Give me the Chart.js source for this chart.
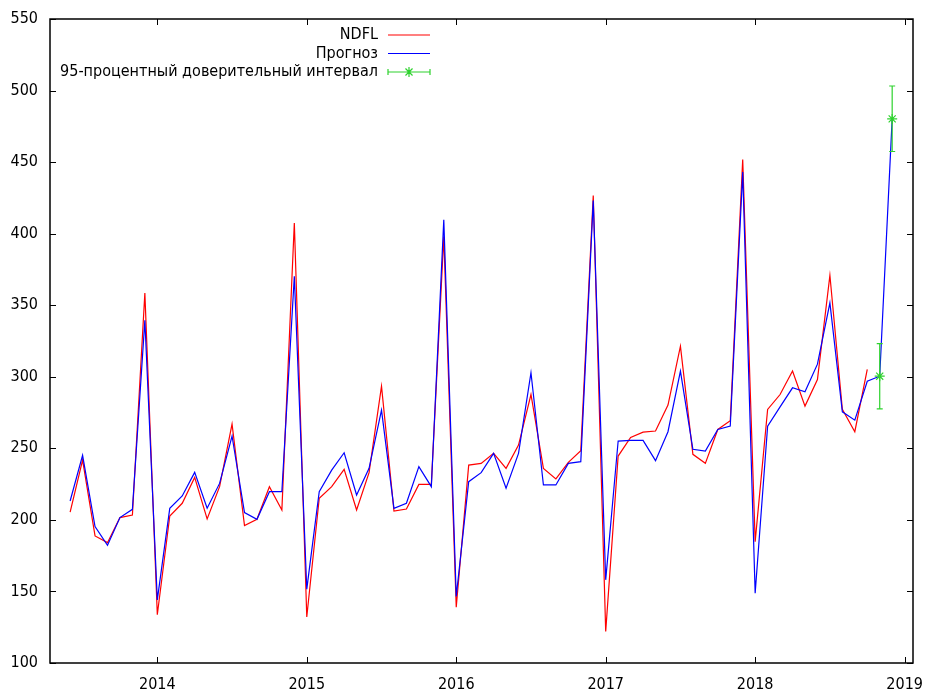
<!DOCTYPE html>
<html>
<head>
<meta charset="utf-8">
<script src="https://cdn.jsdelivr.net/npm/chart.js@4/dist/chart.umd.min.js"></script>
<style>
  html, body { margin: 0; padding: 0; background: #ffffff; }
  #wrap { width: 926px; height: 691px; }
</style>
</head>
<body>
<div id="wrap"><canvas id="chart" width="926" height="691"></canvas></div>
<script>
// Monthly NDFL receipts with model forecast and 95% confidence interval
const months = [
  '2013-06','2013-07','2013-08','2013-09','2013-10','2013-11','2013-12',
  '2014-01','2014-02','2014-03','2014-04','2014-05','2014-06','2014-07','2014-08','2014-09','2014-10','2014-11','2014-12',
  '2015-01','2015-02','2015-03','2015-04','2015-05','2015-06','2015-07','2015-08','2015-09','2015-10','2015-11','2015-12',
  '2016-01','2016-02','2016-03','2016-04','2016-05','2016-06','2016-07','2016-08','2016-09','2016-10','2016-11','2016-12',
  '2017-01','2017-02','2017-03','2017-04','2017-05','2017-06','2017-07','2017-08','2017-09','2017-10','2017-11','2017-12',
  '2018-01','2018-02','2018-03','2018-04','2018-05','2018-06','2018-07','2018-08','2018-09','2018-10','2018-11','2018-12'
];

// actual values (through 2018-10)
const ndfl = [
  205.5, 241.8, 188.8, 184.1, 201.6, 203.4, 358.6,
  133.7, 202.7, 211.6, 229.7, 200.7, 223.2, 266.9, 196.0, 200.4, 223.2, 206.9, 407.4,
  132.1, 215.1, 223.2, 235.3, 206.9, 233.0, 293.4, 206.2, 207.6, 224.8, 224.8, 398.0,
  139.0, 238.3, 239.5, 246.5, 236.0, 252.3, 287.6, 236.0, 228.6, 240.2, 248.3, 426.7,
  122.1, 244.6, 257.6, 261.3, 262.1, 280.2, 321.4, 245.8, 239.5, 263.2, 269.3, 451.8,
  184.8, 277.2, 287.6, 304.0, 279.5, 298.1, 370.9, 277.2, 261.6, 305.1
];

// fitted / forecast values (through 2018-12)
const forecast = [
  213.2, 245.1, 195.3, 182.3, 201.6, 207.4, 339.5,
  144.1, 208.1, 216.7, 233.2, 208.1, 225.5, 258.6, 205.1, 200.4, 219.7, 219.7, 370.2,
  151.6, 219.7, 234.8, 246.9, 217.4, 236.0, 276.7, 208.1, 211.6, 237.2, 223.2, 409.7,
  146.5, 226.7, 233.0, 246.5, 222.1, 246.5, 302.8, 224.4, 224.4, 239.5, 240.7, 423.2,
  158.1, 255.1, 255.5, 255.5, 241.4, 261.6, 303.9, 249.3, 248.1, 263.2, 265.5, 443.0,
  148.8, 265.5, 279.0, 292.3, 289.5, 308.8, 351.6, 275.5, 269.7, 296.9, 300.4, 480.2
];

// 95% interval for the out-of-sample months
const ciMonths = ['2018-11', '2018-12'];
const ciMid    = [300.4, 480.2];
const ciLow    = [277.6, 457.4];
const ciHigh   = [323.2, 503.2];

const yearTicks = [2014, 2015, 2016, 2017, 2018, 2019];
const valueTicks = [100, 150, 200, 250, 300, 350, 400, 450, 500, 550];

const seriesNames = ['NDFL', 'Прогноз', '95-процентный доверительный интервал'];

const RED = '#ff0000';
const BLUE = '#0000ff';
const GREEN = '#2ed22e';
const FONT_FAMILY = "'DejaVu Sans Condensed', 'DejaVu Sans', sans-serif";
const FONT_SIZE = 16;

function toYear(ym) {
  const [y, m] = ym.split('-').map(Number);
  return y + (m - 1) / 12;
}

const ndflPoints = ndfl.map((v, i) => ({ x: toYear(months[i]), y: v }));
const forecastPoints = forecast.map((v, i) => ({ x: toYear(months[i]), y: v }));
const ciPoints = ciMid.map((v, i) => ({ x: toYear(ciMonths[i]), y: v }));

// gnuplot-like frame: border, inward mirrored ticks, error bars, key
const gnuplotFrame = {
  id: 'gnuplotFrame',
  afterDatasetsDraw(chart) {
    const { ctx, chartArea: a, scales } = chart;
    const xs = scales.x, ys = scales.y;

    // error bars for the interval dataset
    ctx.save();
    ctx.strokeStyle = GREEN;
    ctx.lineWidth = 1.2;
    ciMid.forEach((_, i) => {
      const px = xs.getPixelForValue(toYear(ciMonths[i]));
      const pl = ys.getPixelForValue(ciLow[i]);
      const ph = ys.getPixelForValue(ciHigh[i]);
      ctx.beginPath();
      ctx.moveTo(px, pl); ctx.lineTo(px, ph);
      ctx.moveTo(px - 3, pl); ctx.lineTo(px + 3, pl);
      ctx.moveTo(px - 3, ph); ctx.lineTo(px + 3, ph);
      ctx.stroke();
    });
    ctx.restore();

    // border
    ctx.save();
    ctx.strokeStyle = '#000000';
    ctx.lineWidth = 1.5;
    ctx.strokeRect(a.left, a.top, a.right - a.left, a.bottom - a.top);

    // inward tick marks on all four sides
    const tl = 6;
    ctx.lineWidth = 1;
    ctx.beginPath();
    yearTicks.forEach(v => {
      const px = Math.round(xs.getPixelForValue(v)) + 0.5;
      ctx.moveTo(px, a.bottom); ctx.lineTo(px, a.bottom - tl);
      ctx.moveTo(px, a.top); ctx.lineTo(px, a.top + tl);
    });
    valueTicks.forEach(v => {
      const py = Math.round(ys.getPixelForValue(v)) + 0.5;
      ctx.moveTo(a.left, py); ctx.lineTo(a.left + tl, py);
      ctx.moveTo(a.right, py); ctx.lineTo(a.right - tl, py);
    });
    ctx.stroke();
    ctx.restore();

    // key (top left, text right-aligned, sample on the right)
    ctx.save();
    ctx.font = FONT_SIZE + 'px ' + FONT_FAMILY;
    ctx.fillStyle = '#000000';
    ctx.textAlign = 'right';
    ctx.textBaseline = 'middle';
    const textRight = 378, s0 = 388, s1 = 430;
    const rows = [35, 53.5, 72];
    const colors = [RED, BLUE, GREEN];
    seriesNames.forEach((name, i) => {
      const ry = rows[i];
      ctx.fillText(name, textRight, ry);
      ctx.strokeStyle = colors[i];
      ctx.lineWidth = 1.2;
      ctx.beginPath();
      ctx.moveTo(s0, ry); ctx.lineTo(s1, ry);
      if (i === 2) {
        ctx.moveTo(s0, ry - 3); ctx.lineTo(s0, ry + 3);
        ctx.moveTo(s1, ry - 3); ctx.lineTo(s1, ry + 3);
        const mx = (s0 + s1) / 2, r = 5, d = r * Math.SQRT1_2;
        ctx.moveTo(mx, ry - r); ctx.lineTo(mx, ry + r);
        ctx.moveTo(mx - d, ry - d); ctx.lineTo(mx + d, ry + d);
        ctx.moveTo(mx - d, ry + d); ctx.lineTo(mx + d, ry - d);
      }
      ctx.stroke();
    });
    ctx.restore();
  }
};

new Chart(document.getElementById('chart'), {
  type: 'line',
  data: {
    datasets: [
      {
        label: seriesNames[0],
        data: ndflPoints,
        borderColor: RED,
        borderWidth: 1.2,
        pointRadius: 0,
        tension: 0,
        fill: false,
        order: 2
      },
      {
        label: seriesNames[1],
        data: forecastPoints,
        borderColor: BLUE,
        borderWidth: 1.2,
        pointRadius: 0,
        tension: 0,
        fill: false,
        order: 1
      },
      {
        type: 'scatter',
        label: seriesNames[2],
        data: ciPoints,
        showLine: false,
        pointStyle: 'star',
        pointRadius: 5,
        borderColor: GREEN,
        backgroundColor: GREEN,
        borderWidth: 1.2,
        order: 0
      }
    ]
  },
  options: {
    responsive: false,
    animation: false,
    events: [],
    layout: { padding: { top: 19, right: 13, left: 0, bottom: 0 } },
    plugins: {
      legend: { display: false },
      tooltip: { enabled: false }
    },
    scales: {
      x: {
        type: 'linear',
        min: 2013.282,
        max: 2019.056,
        afterBuildTicks(scale) { scale.ticks = yearTicks.map(v => ({ value: v })); },
        afterFit(scale) {
          scale.height = 28;
          scale.paddingLeft = 0;
          scale.paddingRight = 0;
        },
        grid: { display: false, drawTicks: false },
        border: { display: false },
        ticks: {
          padding: 12,
          color: '#000000',
          font: { family: FONT_FAMILY, size: FONT_SIZE },
          maxRotation: 0,
          autoSkip: false,
          callback: v => String(v)
        }
      },
      y: {
        type: 'linear',
        min: 100,
        max: 550,
        afterBuildTicks(scale) { scale.ticks = valueTicks.map(v => ({ value: v })); },
        afterFit(scale) {
          scale.width = 50;
          scale.paddingTop = 0;
          scale.paddingBottom = 0;
        },
        grid: { display: false, drawTicks: false },
        border: { display: false },
        ticks: {
          padding: 12,
          color: '#000000',
          font: { family: FONT_FAMILY, size: FONT_SIZE },
          autoSkip: false,
          callback: v => String(v)
        }
      }
    }
  },
  plugins: [gnuplotFrame]
});
</script>
</body>
</html>
